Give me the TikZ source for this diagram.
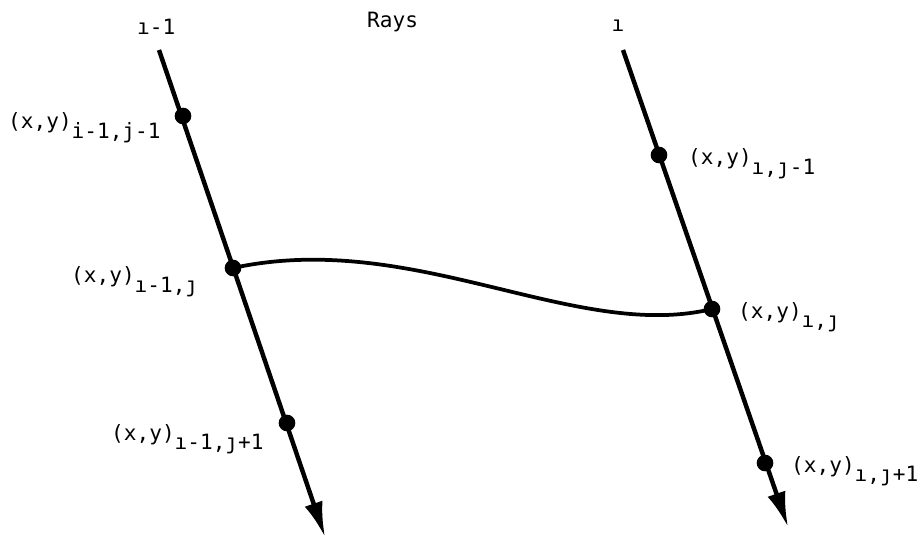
\documentclass[tikz,border=0pt]{standalone}
\usepackage{fontspec}
\setmonofont{DejaVu Sans Mono}
\usetikzlibrary{arrows.meta}

% subscript lowered to the same size as the text
\newcommand{\xylab}[1]{(x,y)\raisebox{-7.7pt}{#1}}

\begin{document}
\begin{tikzpicture}[
    x=0.03cm, y=-0.03cm,
    >={Latex[length=30pt,width=16pt]},
    every node/.style={font=\ttfamily\fontsize{18}{21}\selectfont, inner sep=0pt},
    ray/.style={line width=3.8pt, ->},
    curve/.style={line width=3.2pt},
    gridpt/.style={circle, fill, inner sep=0pt, minimum size=0.5cm},
]
\useasboundingbox (0,0) rectangle (923,539);

% --- Ray i-1 ---
\coordinate (ltop) at (159,50);
\coordinate (ltip) at (325,537);
\draw[ray] (ltop) -- (ltip);
\node[gridpt] (pa) at (183,116) {};
\node[gridpt] (pb) at (233,268) {};
\node[gridpt] (pc) at (287,423) {};

% --- Ray i ---
\coordinate (rtop) at (623,50);
\coordinate (rtip) at (788,527);
\draw[ray] (rtop) -- (rtip);
\node[gridpt] (qa) at (659,155) {};
\node[gridpt] (qb) at (712,309) {};
\node[gridpt] (qc) at (765,463) {};

% --- Curve between the rays ---
\draw[curve] (pb.center) .. controls (413,229) and (575,342) .. (qb.center);

% --- Labels ---
\node[anchor=base west] (rim) at (137,35) {ı-1};
\node[anchor=base] (ri) at (618,32) {ı};
\node[anchor=base west] (rays) at (367,28) {Rays};

\node[anchor=base west] (la) at (8,129) {\xylab{i-1,j-1}};
\node[anchor=base west] (lb) at (71,283) {\xylab{ı-1,ȷ}};
\node[anchor=base west] (lc) at (111,440) {\xylab{ı-1,ȷ+1}};
\node[anchor=base west] (ma) at (688,165) {\xylab{ı,ȷ-1}};
\node[anchor=base west] (mb) at (738,318) {\xylab{ı,ȷ}};
\node[anchor=base west] (mc) at (791,472) {\xylab{ı,ȷ+1}};

\end{tikzpicture}
\end{document}
